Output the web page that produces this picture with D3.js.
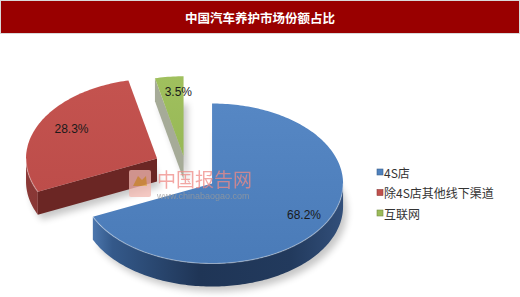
<!DOCTYPE html>
<html>
<head>
<meta charset="utf-8">
<script src="https://cdn.jsdelivr.net/npm/d3@7"></script>
<style>
  html, body { margin: 0; padding: 0; background: #fff; }
  svg { display: block; }
</style>
</head>
<body>
<svg id="chart" width="520" height="297"></svg>
<script>
// ---- data ----
const chartTitle = "中国汽车养护市场份额占比";
const categories = ["4S店", "除4S店其他线下渠道", "互联网"];
const shares = [68.2, 28.3, 3.5];
const shareLabels = ["68.2%", "28.3%", "3.5%"];

// ---- styling ----
const topColors  = ["#4f81bd", "#c0504d", "#9bbb59"];
const radialWallColors = ["#223a5e", "#6b2624", "#a6ab98"];
const explode = [31.7, 31.7, 17];   // how far each slice is pulled out
const W = 520, H = 297;
const cx = 185.4, cy = 169.8;       // pie centre on screen
const rx = 131, ry = 80;            // projected radii of the top face
const depth = 23;                   // thickness of the pie
const explodeTilt = 0.8;

const svg = d3.select("#chart");
const defs = svg.append("defs");

// title bar
svg.append("rect").attr("x", 0.5).attr("y", 0.5).attr("width", W - 1).attr("height", 33)
  .attr("fill", "#990000").attr("stroke", "#d9d9d9").attr("stroke-width", 1);
svg.append("text").attr("x", W / 2).attr("y", 17.5)
  .attr("text-anchor", "middle").attr("dominant-baseline", "central")
  .attr("font-family", "'Noto Sans CJK SC', sans-serif").attr("font-size", 12.5)
  .attr("font-weight", 700).attr("fill", "#ffffff").text(chartTitle);

// pie angles (0 = far side, clockwise)
const pie = d3.pie().sort(null).value(d => d)(shares);

const slices = pie.map((p, i) => {
  const mid = (p.startAngle + p.endAngle) / 2;
  const e = explode[i];
  return {
    i, a0: p.startAngle, a1: p.endAngle, mid,
    ox: cx + e * Math.sin(mid),
    oy: cy - e * explodeTilt * Math.cos(mid)
  };
});

const pt = (s, a, r = 1, dz = 0) => [s.ox + rx * r * Math.sin(a), s.oy - ry * r * Math.cos(a) + dz];
const arcPts = (s, t0, t1, dz = 0) => {
  const n = Math.max(2, Math.ceil(Math.abs(t1 - t0) / 0.02));
  return d3.range(n + 1).map(k => pt(s, t0 + (t1 - t0) * k / n, 1, dz));
};
const line = d3.line();

// gradients for the curved walls
const wallGrad = [
  [["0%", "#5a88c2"], ["12%", "#34598a"], ["45%", "#1f3556"], ["80%", "#223a5d"], ["100%", "#324f7a"]],
  [["0%", "#8a3836"], ["100%", "#6d2725"]],
  [["0%", "#a4ab97"], ["100%", "#a4ab97"]]
];
wallGrad.forEach((stops, i) => {
  const g = defs.append("linearGradient").attr("id", "wall" + i)
    .attr("gradientUnits", "userSpaceOnUse")
    .attr("x1", slices[i].ox - rx).attr("x2", slices[i].ox + rx).attr("y1", 0).attr("y2", 0);
  stops.forEach(([o, c]) => g.append("stop").attr("offset", o).attr("stop-color", c));
});
const topGrad = [["#5687c4", "#4a7bb8"], ["#c4534f", "#bd4d4a"], ["#a0c05e", "#97b856"]];
topGrad.forEach((c, i) => {
  const g = defs.append("linearGradient").attr("id", "top" + i)
    .attr("x1", 0).attr("x2", 0).attr("y1", 0).attr("y2", 1);
  g.append("stop").attr("offset", "0%").attr("stop-color", c[0]);
  g.append("stop").attr("offset", "100%").attr("stop-color", c[1]);
});
const blur = defs.append("filter").attr("id", "soft").attr("x", "-20%").attr("y", "-20%")
  .attr("width", "140%").attr("height", "140%");
blur.append("feGaussianBlur").attr("stdDeviation", 3.5);

const pieG = svg.append("g");

// soft shadow under the slices
const shadowG = pieG.append("g").attr("filter", "url(#soft)").attr("opacity", 0.22);
slices.forEach(s => {
  const pts = [[s.ox, s.oy + depth]].concat(arcPts(s, s.a0, s.a1, depth));
  shadowG.append("path").attr("d", line(pts) + "Z")
    .attr("transform", "translate(4,5)").attr("fill", "#000");
});

// back to front: green, red, blue
[2, 1, 0].forEach(i => {
  const s = slices[i];
  const g = pieG.append("g");
  // radial wall at the start edge
  const n0 = s.a0 - Math.PI / 2;
  if (Math.cos(n0) < -1e-6) {
    const e0 = pt(s, s.a0);
    g.append("path").attr("d", line([[s.ox, s.oy], e0, [e0[0], e0[1] + depth], [s.ox, s.oy + depth]]) + "Z")
      .attr("fill", radialWallColors[i]);
  }
  // radial wall at the end edge
  const n1 = s.a1 + Math.PI / 2;
  if (Math.cos(n1) < -1e-6) {
    const e1 = pt(s, s.a1);
    g.append("path").attr("d", line([[s.ox, s.oy], e1, [e1[0], e1[1] + depth], [s.ox, s.oy + depth]]) + "Z")
      .attr("fill", radialWallColors[i]);
  }
  // curved outer wall, only the part facing the viewer
  const t0 = Math.max(s.a0, Math.PI / 2), t1 = Math.min(s.a1, 3 * Math.PI / 2);
  if (t1 > t0) {
    const pts = arcPts(s, t0, t1).concat(arcPts(s, t1, t0, depth));
    g.append("path").attr("d", line(pts) + "Z").attr("fill", `url(#wall${i})`);
  }
  // top face
  const topPts = [[s.ox, s.oy]].concat(arcPts(s, s.a0, s.a1));
  g.append("path").attr("d", line(topPts) + "Z").attr("fill", `url(#top${i})`);
  // light rim along the front edge of the top face
  if (t1 > t0) {
    g.append("path").attr("d", line(arcPts(s, t0, t1)))
      .attr("fill", "none").attr("stroke", "#ffffff").attr("stroke-opacity", 0.35).attr("stroke-width", 1.2);
  }
});

// value labels
slices.forEach((s, i) => {
  const p = pt(s, s.mid, 0.78);
  pieG.append("text").attr("x", p[0] + 6).attr("y", p[1] - 2)
    .attr("text-anchor", "middle").attr("dominant-baseline", "central")
    .attr("font-family", "'Liberation Sans', Arial, sans-serif").attr("font-size", 12)
    .attr("fill", "#1a1a1a").text(shareLabels[i]);
});

// watermark
const wm = svg.append("g").attr("opacity", 0.75);
wm.append("rect").attr("x", 129).attr("y", 170).attr("width", 22).attr("height", 27).attr("rx", 2)
  .attr("fill", "#f2b8b0");
wm.append("path").attr("d", "M133,186 L138,176 L142,180 L146,176 L147,186 Z").attr("fill", "#e8a64a");
wm.append("text").attr("x", 157).attr("y", 178).attr("dominant-baseline", "central")
  .attr("font-family", "'Noto Sans CJK SC', sans-serif").attr("font-size", 19)
  .attr("fill", "#ef8a86").text("中国报告网");
wm.append("text").attr("x", 157).attr("y", 196).attr("dominant-baseline", "central")
  .attr("font-family", "'Liberation Sans', Arial, sans-serif").attr("font-size", 9)
  .attr("fill", "#9a9a9a").text("www.chinabaogao.com");

// legend
const legend = svg.append("g").attr("transform", "translate(377,172)");
categories.forEach((c, i) => {
  const row = legend.append("g").attr("transform", `translate(0,${i * 20.5})`);
  row.append("rect").attr("x", 0).attr("y", -3).attr("width", 6).attr("height", 6)
    .attr("fill", topColors[i]).attr("stroke", d3.color(topColors[i]).darker(0.8)).attr("stroke-width", 0.6);
  row.append("text").attr("x", 7).attr("y", 0).attr("dominant-baseline", "central")
    .attr("font-family", "'Noto Sans CJK SC', sans-serif").attr("font-size", 12)
    .attr("fill", "#333333").text(c);
});
</script>
</body>
</html>
